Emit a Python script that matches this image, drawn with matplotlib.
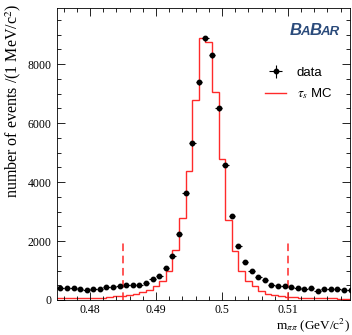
import matplotlib
matplotlib.use("Agg")
import matplotlib.pyplot as plt
from matplotlib.ticker import MultipleLocator
import numpy as np

# m_pipi bins of 1 MeV
bin_lo = 0.4755
bin_w = 0.001
data_counts = [396, 396, 396, 362, 339, 385, 362, 430, 441, 463,
               497, 497, 508, 587, 712, 830, 1070, 1480, 2230, 3630,
               5310, 7380, 8870, 8300, 6500, 4580, 2860, 1840, 1290, 990,
               773, 680, 492, 468, 468, 430, 400, 365, 390, 318,
               365, 365, 365, 345, 350]
mc_counts = [60, 60, 65, 65, 70, 75, 80, 80, 110, 120,
             140, 170, 200, 260, 340, 468, 660, 976, 1680, 2786,
             4390, 6773, 8888, 8740, 7044, 4786, 2705, 1670, 976, 637,
             460, 310, 215, 153, 125, 100, 90, 80, 75, 70,
             65, 60, 55, 50, 45, 45]
cut_lo, cut_hi = 0.485, 0.510
cut_height = 2000

x = bin_lo + bin_w * np.arange(len(data_counts))
y = np.array(data_counts, dtype=float)
mc_edges = bin_lo - bin_w + bin_w * np.arange(len(mc_counts) + 1)

serif = "Liberation Serif"
plt.rcParams["mathtext.fontset"] = "stix"

fig = plt.figure(figsize=(3.52, 3.35), dpi=100)
ax = fig.add_axes([0.162, 0.1045, 0.832, 0.8715])

ax.stairs(mc_counts, mc_edges, baseline=None, color="#ff2a2a", lw=1.0,
          label=r"$\tau_s$ MC")
ax.errorbar(x, y, xerr=bin_w / 2, yerr=np.sqrt(y), fmt="o", ms=3.2,
            color="black", elinewidth=0.8, capsize=0, label="data")
ax.vlines([cut_lo, cut_hi], 0, cut_height, colors="#ff2a2a",
          linestyles=(0, (5, 3)), lw=1.1)

ax.set_xlim(0.475, 0.5194)
ax.set_ylim(0, 9900)
ax.xaxis.set_major_locator(MultipleLocator(0.01))
ax.xaxis.set_minor_locator(MultipleLocator(0.002))
ax.yaxis.set_major_locator(MultipleLocator(2000))
ax.yaxis.set_minor_locator(MultipleLocator(500))
ax.set_xticks([0.48, 0.49, 0.50, 0.51])
ax.set_xticklabels(["0.48", "0.49", "0.5", "0.51"])
ax.tick_params(which="both", direction="in", top=True, right=True,
               width=0.6, labelsize=8.5, pad=4)
ax.tick_params(axis="x", pad=3)
ax.tick_params(which="major", length=6)
ax.tick_params(which="minor", length=3)
for lab in ax.get_xticklabels() + ax.get_yticklabels():
    lab.set_fontfamily(serif)
for s in ax.spines.values():
    s.set_linewidth(0.6)

fig.text(3 / 352, 1 - 4 / 335, r"number of events /(1 MeV/c$^2$)",
         rotation=90, ha="left", va="top", fontfamily=serif, fontsize=11.5)
fig.text(350 / 352, 1 / 335, r"m$_{\pi\pi}$ (GeV/c$^2$)",
         ha="right", va="bottom", fontfamily=serif, fontsize=9.5)

h, l = ax.get_legend_handles_labels()
ax.legend(h[::-1], l[::-1], loc="upper left", bbox_to_anchor=(0.67, 0.84),
          frameon=False, handlelength=1.6, labelspacing=0.55,
          prop={"family": "Liberation Sans", "size": 9.5})

# BaBar logo
logo = "#2b4b7b"
t = ax.text(0.795, 0.897, "B", transform=ax.transAxes, fontsize=12,
            fontweight="bold", style="italic", color=logo, va="bottom",
            family="Liberation Sans")
for piece, size in [("A", 9.5), ("B", 12), ("AR", 9.5)]:
    t = ax.annotate(piece, xy=(0.9, 0), xycoords=t, fontsize=size,
                    fontweight="bold", style="italic", color=logo,
                    va="bottom", family="Liberation Sans")

fig.savefig("out.png", dpi=100)
